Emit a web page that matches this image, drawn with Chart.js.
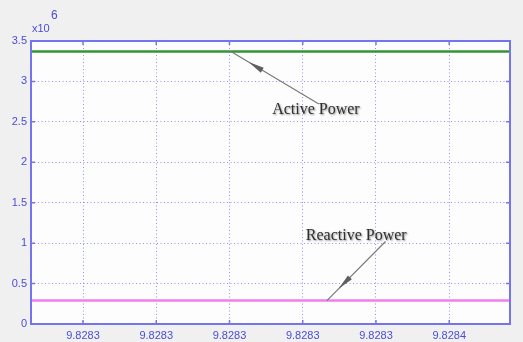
<!DOCTYPE html>
<html>
<head>
<meta charset="utf-8">
<script src="https://cdn.jsdelivr.net/npm/chart.js@4.4.1/dist/chart.umd.min.js"></script>
<style>
  html, body { margin: 0; padding: 0; background: #f0f0f0; }
  #wrap { width: 523px; height: 342px; position: relative; }
</style>
</head>
<body>
<div id="wrap"><canvas id="c" width="523" height="342"></canvas></div>
<script>
// ---- data ----
const xTickValues = [0, 1, 2, 3, 4, 5];
const xTickLabels = ['9.8283', '9.8283', '9.8283', '9.8283', '9.8283', '9.8284'];
const xRange = [-0.71, 5.83];
const timeX = [-0.71, 5.83];
const activePower = [3370000, 3370000];
const reactivePower = [290000, 290000];
const yTickValues = [0, 500000, 1000000, 1500000, 2000000, 2500000, 3000000, 3500000];
const yTickLabels = ['0', '0.5', '1', '1.5', '2', '2.5', '3', '3.5'];
const annotations = [
  { text: 'Active Power', tx: 3.18, ty: 2650000, tip: [2.02, 3370000], tail: [3.22, 2720000] },
  { text: 'Reactive Power', tx: 3.73, ty: 1090000, tip: [3.33, 290000], tail: [4.13, 1020000] }
];

const axisColor = '#7474ee';
const labelColor = '#4c4cd8';

const framePlugin = {
  id: 'frame',
  beforeDraw(chart) {
    const { ctx, chartArea: a } = chart;
    ctx.save();
    ctx.fillStyle = '#fdfdfd';
    ctx.fillRect(a.left, a.top, a.right - a.left, a.bottom - a.top);
    ctx.restore();
  },
  afterDraw(chart) {
    const { ctx, chartArea: a, scales } = chart;
    ctx.save();
    // inward tick marks
    ctx.strokeStyle = axisColor;
    ctx.lineWidth = 1.5;
    const tl = 4;
    xTickValues.forEach(v => {
      const x = scales.x.getPixelForValue(v);
      ctx.beginPath();
      ctx.moveTo(x, a.bottom); ctx.lineTo(x, a.bottom - tl);
      ctx.moveTo(x, a.top); ctx.lineTo(x, a.top + tl);
      ctx.stroke();
    });
    yTickValues.forEach(v => {
      const y = scales.y.getPixelForValue(v);
      ctx.beginPath();
      ctx.moveTo(a.left, y); ctx.lineTo(a.left + tl, y);
      ctx.moveTo(a.right, y); ctx.lineTo(a.right - tl, y);
      ctx.stroke();
    });
    // box
    ctx.lineWidth = 2;
    ctx.strokeRect(a.left, a.top, a.right - a.left, a.bottom - a.top);
    // exponent
    ctx.fillStyle = labelColor;
    ctx.font = '11px "Liberation Sans", Arial, sans-serif';
    ctx.textBaseline = 'middle';
    ctx.textAlign = 'left';
    ctx.fillText('x10', a.left + 1, a.top - 12);
    ctx.font = '12px "Liberation Sans", Arial, sans-serif';
    ctx.fillText('6', a.left + 20, a.top - 25);

    // annotations
    annotations.forEach(an => {
      const x1 = scales.x.getPixelForValue(an.tail[0]);
      const y1 = scales.y.getPixelForValue(an.tail[1]);
      const x2 = scales.x.getPixelForValue(an.tip[0]);
      const y2 = scales.y.getPixelForValue(an.tip[1]);
      ctx.strokeStyle = '#7a7a7a';
      ctx.lineWidth = 1.2;
      ctx.beginPath(); ctx.moveTo(x1, y1); ctx.lineTo(x2, y2); ctx.stroke();
      // arrow head (thickened segment)
      const dx = x1 - x2, dy = y1 - y2;
      const len = Math.hypot(dx, dy);
      const ux = dx / len, uy = dy / len;
      const px = -uy, py = ux;
      const s = len * 0.2, e = s + 16, w = 2.8;
      ctx.fillStyle = '#5f5f5f';
      ctx.beginPath();
      ctx.moveTo(x2 + ux * s, y2 + uy * s);
      ctx.lineTo(x2 + ux * e + px * w, y2 + uy * e + py * w);
      ctx.lineTo(x2 + ux * e - px * w, y2 + uy * e - py * w);
      ctx.closePath();
      ctx.fill();
      // text
      const tx = scales.x.getPixelForValue(an.tx);
      const ty = scales.y.getPixelForValue(an.ty);
      ctx.font = '16px "Liberation Serif", "Times New Roman", serif';
      ctx.textAlign = 'center';
      ctx.textBaseline = 'middle';
      ctx.shadowColor = 'rgba(0,0,0,0.45)';
      ctx.shadowBlur = 2;
      ctx.shadowOffsetX = 1;
      ctx.shadowOffsetY = 1;
      ctx.fillStyle = '#303030';
      ctx.fillText(an.text, tx, ty);
      ctx.shadowColor = 'transparent';
    });
    ctx.restore();
  }
};

new Chart(document.getElementById('c'), {
  type: 'line',
  data: {
    datasets: [
      {
        label: 'Active Power',
        data: timeX.map((x, i) => ({ x, y: activePower[i] })),
        borderColor: '#349434',
        borderWidth: 2.5,
        pointRadius: 0,
        fill: false
      },
      {
        label: 'Reactive Power',
        data: timeX.map((x, i) => ({ x, y: reactivePower[i] })),
        borderColor: '#f07cf0',
        borderWidth: 2.5,
        pointRadius: 0,
        fill: false
      }
    ]
  },
  options: {
    responsive: false,
    animation: false,
    devicePixelRatio: 1,
    layout: { padding: { top: 41, right: 13, left: 0, bottom: 0 } },
    plugins: { legend: { display: false }, tooltip: { enabled: false } },
    scales: {
      x: {
        type: 'linear',
        min: xRange[0],
        max: xRange[1],
        afterBuildTicks(scale) { scale.ticks = xTickValues.map(v => ({ value: v })); },
        afterFit(scale) { scale.height = 18; },
        ticks: {
          color: labelColor,
          font: { family: '"Liberation Sans", Arial, sans-serif', size: 11 },
          padding: 5,
          maxRotation: 0,
          autoSkip: false,
          callback: (v) => xTickLabels[xTickValues.indexOf(v)]
        },
        grid: { color: 'rgba(110,110,235,0.75)', lineWidth: 1, drawTicks: false },
        border: { display: false, dash: [1, 2.5] }
      },
      y: {
        min: 0,
        max: 3500000,
        afterBuildTicks(scale) { scale.ticks = yTickValues.map(v => ({ value: v })); },
        afterFit(scale) { scale.width = 31; },
        ticks: {
          color: labelColor,
          font: { family: '"Liberation Sans", Arial, sans-serif', size: 11 },
          padding: 4,
          autoSkip: false,
          callback: (v) => yTickLabels[yTickValues.indexOf(v)]
        },
        grid: { color: 'rgba(110,110,235,0.75)', lineWidth: 1, drawTicks: false },
        border: { display: false, dash: [1, 2.5] }
      }
    }
  },
  plugins: [framePlugin]
});
</script>
</body>
</html>
